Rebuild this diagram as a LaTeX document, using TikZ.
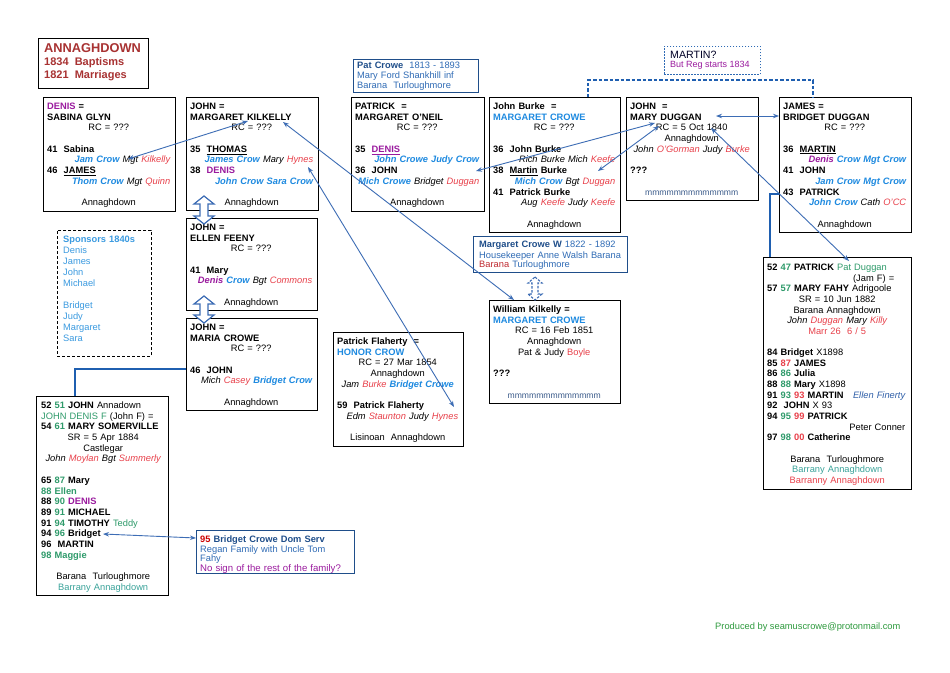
\documentclass[tikz,border=0pt]{standalone}
\usepackage{fontspec}
\setmainfont{Liberation Sans}
\usetikzlibrary{arrows.meta}
\definecolor{nblue}{HTML}{1E8AE0}
\definecolor{sblue}{HTML}{3A9AE0}
\definecolor{nred}{HTML}{E8404A}
\definecolor{ngreen}{HTML}{2E9A6A}
\definecolor{nteal}{HTML}{3AA39A}
\definecolor{npurple}{HTML}{9A1A9E}
\definecolor{titlered}{HTML}{A83232}
\definecolor{dkblue}{HTML}{1F4E8A}
\definecolor{midblue}{HTML}{2F6BB5}
\definecolor{linkblue}{HTML}{3D6DB5}
\definecolor{thickblue}{HTML}{1F5FB0}
\definecolor{mgray}{HTML}{3A5A8A}
\definecolor{footgreen}{HTML}{2E9A3E}
\definecolor{darkred}{HTML}{C02A30}
\definecolor{eblue}{HTML}{2F5FA8}
\newcommand\ctrline[1]{\hfill#1\hfill\null}
\newcommand\bn[1]{\textcolor{nblue}{\textbf{\textit{#1}}}}
\newcommand\bb[1]{\textcolor{nblue}{\textbf{#1}}}
\newcommand\rn[1]{\textcolor{nred}{#1}}
\newcommand\gn[1]{\textcolor{ngreen}{#1}}
\newcommand\pn[1]{\textcolor{npurple}{#1}}
\newcommand\tn[1]{\textcolor{nteal}{#1}}
\newcommand\mrow{\textcolor{mgray}{\fontsize{8.6}{9}\selectfont mmmmmmmmmmmmm}}
% x, y1, y2, head half width, shaft half width, head length, style
\newcommand\updown[7]{%
  \draw[#7] (#1,#2) -- ++(#4,#6) -- (#1+#5,#2+#6) -- (#1+#5,#3-#6) -- (#1+#4,#3-#6)
    -- (#1,#3) -- (#1-#4,#3-#6) -- (#1-#5,#3-#6) -- (#1-#5,#2+#6) -- (#1-#4,#2+#6) -- cycle;}
\begin{document}
\begin{tikzpicture}[x=1pt,y=-1pt,
  box/.style={draw=black, line width=1.1pt, fill=white, inner sep=0, anchor=north west},
  bluebox/.style={box, draw=dkblue},
  body/.style={anchor=north west, inner sep=0, align=left, font=\fontsize{9.3}{10.7}\selectfont},
  single/.style={anchor=base west, inner sep=0},
  link/.style={draw=linkblue, line width=0.9pt, {Stealth[length=6pt,width=4.5pt]}-{Stealth[length=6pt,width=4.5pt]}},
  thickline/.style={draw=thickblue, line width=2pt},
  blockarrow/.style={draw=linkblue, line width=1.2pt, fill=white},
  dashblock/.style={draw=linkblue, line width=1.1pt, dash pattern=on 2.5pt off 1.5pt, fill=white}
]
\fill[white] (0,0) rectangle (950,672);
\useasboundingbox (0,0) rectangle (950,672);

% ---------- title
\node[box, minimum width=110, minimum height=50] (title) at (38,38) {};
\node[single, font=\fontsize{12.8}{14}\selectfont\bfseries, text=titlered] (title1) at (44,52.6) {ANNAGHDOWN};
\node[single, font=\fontsize{11}{12}\selectfont\bfseries, text=titlered] (title2) at (44,65.9) {1834~~Baptisms};
\node[single, font=\fontsize{11}{12}\selectfont\bfseries, text=titlered] (title3) at (44,78.2) {1821~~Marriages};

% ---------- boxes
\node[box, minimum width=132, minimum height=114] (denis) at (43,97) {};
\node[box, minimum width=132, minimum height=113] (kil) at (186,97) {};
\node[bluebox, minimum width=125, minimum height=33] (patc) at (353,59) {};
\node[box, minimum width=133, minimum height=114] (pat) at (351,97) {};
\node[box, minimum width=131, minimum height=135] (burke) at (489,97) {};
\node[box, minimum width=132, minimum height=103] (dug) at (626,97) {};
\node[box, draw=midblue, line width=0.9pt, dash pattern=on 1.5pt off 1.5pt, minimum width=96, minimum height=28] (martin) at (664,46) {};
\node[box, minimum width=132, minimum height=135] (james) at (779,97) {};
\node[box, minimum width=131, minimum height=92] (feeny) at (186,218) {};
\node[box, minimum width=131, minimum height=92] (maria) at (186,318) {};
\node[box, line width=0.9pt, dash pattern=on 3pt off 2pt, minimum width=94, minimum height=126] (spons) at (57,230) {};
\node[box, minimum width=130, minimum height=114] (flah) at (333,332) {};
\node[bluebox, minimum width=154, minimum height=36] (mgw) at (473,236) {};
\node[box, minimum width=131, minimum height=103] (wil) at (489,300) {};
\node[box, minimum width=132, minimum height=199] (bl) at (36,396) {};
\node[bluebox, minimum width=158, minimum height=43] (b95) at (196,530) {};
\node[box, minimum width=148, minimum height=232] (rbox) at (763,257) {};

% ---------- texts
\node[body, text width=123] (denis-t) at (47,101.8) {\strut\textbf{\pn{DENIS} =}\\
\textbf{SABINA GLYN}\\
\ctrline{RC = ???}\\
~\\
\textbf{41~~Sabina}\\
\hfill\textit{\bn{Jam Crow} Mgt \rn{Kilkelly}}\\
\textbf{46~~\underline{JAMES}}\\
\hfill\textit{\bn{Thom Crow} Mgt \rn{Quinn}}\\
~\\
\ctrline{Annaghdown}};

\node[body, text width=123] (kil-t) at (190,101.8) {\strut\textbf{JOHN =}\\
\textbf{MARGARET KILKELLY}\\
\ctrline{RC = ???}\\
~\\
\textbf{35~~\underline{THOMAS}}\\
\hfill\textit{\bn{James Crow} Mary \rn{Hynes}}\\
\textbf{38~~\pn{DENIS}}\\
\hfill\textit{\bn{John Crow Sara Crow}}\\
~\\
\ctrline{Annaghdown}};

\node[body, text width=118, font=\fontsize{9.3}{10}\selectfont, text=midblue] (patc-t) at (357,61.3) {\strut\textcolor{dkblue}{\textbf{Pat Crowe}}~~1813 - 1893\\
Mary Ford Shankhill inf\\
Barana~~Turloughmore};

\node[body, text width=124] (pat-t) at (355,101.8) {\strut\textbf{PATRICK~~=}\\
\textbf{MARGARET O'NEIL}\\
\ctrline{RC = ???}\\
~\\
\textbf{35~~\pn{\underline{DENIS}}}\\
\hfill\textit{\bn{John Crowe Judy Crow}}\\
\textbf{36~~JOHN}\\
\hfill\mbox{\textit{\bn{Mich Crowe} Bridget \rn{Duggan}}}\\
~\\
\ctrline{Annaghdown}};

\node[body, text width=122] (burke-t) at (493,101.8) {\strut\textbf{John Burke~~=}\\
\bb{MARGARET CROWE}\\
\ctrline{RC = ???}\\
~\\
\textbf{36~~John Burke}\\
\hfill\textit{Rich Burke Mich \rn{Keefe}}\\
\textbf{38~~\underline{Martin} Burke}\\
\hfill\textit{\bn{Mich Crow} Bgt \rn{Duggan}}\\
\textbf{41~~Patrick Burke}\\
\hfill\textit{Aug \rn{Keefe} Judy \rn{Keefe}}\\
~\\
\ctrline{Annaghdown}};

\node[body, text width=123] (dug-t) at (630,101.8) {\strut\textbf{JOHN~~=}\\
\textbf{MARY DUGGAN}\\
\ctrline{RC = 5 Oct 1840}\\
\ctrline{Annaghdown}\\
\ctrline{\textit{John \rn{O'Gorman} Judy \rn{Burke}}}\\
~\\
\textbf{???}\\
~\\
\ctrline{\mrow}};

\node[single, font=\fontsize{10.6}{12}\selectfont, text=black!85!blue] (martin1) at (670,58.8) {MARTIN?};
\node[single, font=\fontsize{9}{10}\selectfont, text=npurple] (martin2) at (670,67.3) {But Reg starts 1834};

\node[body, text width=123] (james-t) at (783,101.8) {\strut\textbf{JAMES =}\\
\textbf{BRIDGET DUGGAN}\\
\ctrline{RC = ???}\\
~\\
\textbf{36~~\underline{MARTIN}}\\
\hfill\textit{\textcolor{npurple}{\textbf{Denis}} \bn{Crow Mgt Crow}}\\
\textbf{41~~JOHN}\\
\hfill\textit{\bn{Jam Crow Mgt Crow}}\\
\textbf{43~~PATRICK}\\
\hfill\textit{\bn{John Crow} Cath \rn{O'CC}}\\
~\\
\ctrline{Annaghdown}};

\node[body, text width=122] (feeny-t) at (190,222.8) {\strut\textbf{JOHN =}\\
\textbf{ELLEN FEENY}\\
\ctrline{RC = ???}\\
~\\
\textbf{41~~Mary}\\
\hfill\textit{\textcolor{npurple}{\textbf{Denis}} \bn{Crow} Bgt \rn{Commons}}\\
~\\
\ctrline{Annaghdown}};

\node[body, text width=122] (maria-t) at (190,322.8) {\strut\textbf{JOHN =}\\
\textbf{MARIA CROWE}\\
\ctrline{RC = ???}\\
~\\
\textbf{46~~JOHN}\\
\hfill\textit{Mich \rn{Casey} \bn{Bridget Crow}}\\
~\\
\ctrline{Annaghdown}};

\node[body, text width=85, font=\fontsize{9.3}{11}\selectfont, text=sblue] (spons-t) at (63,234.6) {\strut\textbf{Sponsors 1840s}\\
Denis\\ James\\ John\\ Michael\\ ~\\ Bridget\\ Judy\\ Margaret\\ Sara};

\node[body, text width=121] (flah-t) at (337,336.8) {\strut\textbf{Patrick Flaherty~~=}\\
\bb{HONOR CROW}\\
\ctrline{RC = 27 Mar 1854}\\
\ctrline{Annaghdown}\\
\ctrline{\textit{Jam \rn{Burke} \bn{Bridget Crowe}}}\\
~\\
\textbf{59~~Patrick Flaherty}\\
\hfill\textit{Edm \rn{Staunton} Judy \rn{Hynes}}\\
~\\
\ctrline{Lisinoan~~Annaghdown}};

\node[body, text width=146, font=\fontsize{9.3}{9.6}\selectfont, text=midblue] (mgw-t) at (479,240.6) {\strut\textcolor{dkblue}{\textbf{Margaret Crowe W}} 1822 - 1892\\
Housekeeper Anne Walsh Barana\\
\textcolor{darkred}{Barana} Turloughmore};

\node[body, text width=122] (wil-t) at (493,304.8) {\strut\textbf{William Kilkelly =}\\
\bb{MARGARET CROWE}\\
\ctrline{RC = 16 Feb 1851}\\
\ctrline{Annaghdown}\\
\ctrline{Pat \& Judy \rn{Boyle}}\\
~\\
\textbf{???}\\
~\\
\ctrline{\mrow}};

\node[body, text width=124] (bl-t) at (41,400.8) {\strut\textbf{52} \gn{\textbf{51}} \textbf{JOHN} Annadown\\
\gn{JOHN DENIS F} (John F) =\\
\textbf{54} \gn{\textbf{61}} \textbf{MARY SOMERVILLE}\\
\ctrline{SR = 5 Apr 1884}\\
\ctrline{Castlegar}\\
\ctrline{\textit{John \rn{Moylan} Bgt \rn{Summerly}}}\\
~\\
\textbf{65} \gn{\textbf{87}} \textbf{Mary}\\
\gn{\textbf{88 Ellen}}\\
\textbf{88} \gn{\textbf{90}} \pn{\textbf{DENIS}}\\
\textbf{89} \gn{\textbf{91}} \textbf{MICHAEL}\\
\textbf{91} \gn{\textbf{94}} \textbf{TIMOTHY} \gn{Teddy}\\
\textbf{94} \gn{\textbf{96}} \textbf{Bridget}\\
\textbf{96~~MARTIN}\\
\gn{\textbf{98 Maggie}}\\
~\\
\ctrline{Barana~~Turloughmore}\\
\ctrline{\tn{Barrany Annaghdown}}};

\node[body, text width=152, font=\fontsize{9.3}{9.7}\selectfont, text=midblue] (b95-t) at (200,535.5) {\strut\textcolor{red!80!black}{\textbf{95}} \textcolor{dkblue}{\textbf{Bridget Crowe Dom Serv}}\\
Regan Family with Uncle Tom\\
Fahy\\
\textcolor{npurple}{\fontsize{9.6}{9.7}\selectfont No sign of the rest of the family?}};

\node[body, text width=140, font=\fontsize{9.3}{10.65}\selectfont] (rbox-t) at (767,262.8) {\strut\textbf{52} \gn{\textbf{47}} \textbf{PATRICK} \gn{Pat Duggan}\\
\hfill(Jam F) =\hbox to 13pt{}\\
\textbf{57} \gn{\textbf{57}} \textbf{MARY FAHY} Adrigoole\\
\ctrline{SR = 10 Jun 1882}\\
\ctrline{Barana Annaghdown}\\
\ctrline{\textit{John \rn{Duggan} Mary \rn{Killy}}}\\
\ctrline{\rn{Marr 26~~6 / 5}}\\
~\\
\textbf{84 Bridget} X1898\\
\textbf{85} \rn{\textbf{87}} \textbf{JAMES}\\
\textbf{86} \gn{\textbf{86}} \textbf{Julia}\\
\textbf{88} \gn{\textbf{88}} \textbf{Mary} X1898\\
\mbox{\textbf{91} \gn{\textbf{93}} \rn{\textbf{93}} \textbf{MARTIN}~~~\textit{\textcolor{eblue}{Ellen Finerty}}}\\
\textbf{92~~JOHN} X 93\\
\textbf{94} \gn{\textbf{95}} \rn{\textbf{99}} \textbf{PATRICK}\\
\hfill Peter Conner\hbox to 2pt{}\\
\textbf{97} \gn{\textbf{98}} \rn{\textbf{00}} \textbf{Catherine}\\
~\\
\ctrline{Barana~~Turloughmore}\\
\ctrline{\tn{Barrany Annaghdown}}\\
\ctrline{\rn{Barranny Annaghdown}}};

\node[single, font=\fontsize{9.3}{10}\selectfont, text=footgreen] (foot) at (715,629.3) {Produced by seamuscrowe@protonmail.com};

% ---------- block arrows
\updown{204}{196}{224}{10}{4}{8}{blockarrow}
\updown{204}{296}{323}{10}{4}{8}{blockarrow}
\updown{535}{277}{300}{7}{3}{6}{dashblock}

% ---------- connector end points
\coordinate (kilA) at (128,159);
\coordinate (kilB) at (248,121);
\coordinate (kilC) at (283,122);
\coordinate (wilT) at (514,300);
\coordinate (hyA) at (308,167);
\coordinate (hyB) at (454,407);
\coordinate (pjA) at (476,171);
\coordinate (mdA) at (655,123);
\coordinate (bdA) at (598,171);
\coordinate (mdB) at (659,126);
\coordinate (mdC) at (716,116);
\coordinate (bdgA) at (779,116);
\coordinate (mdD) at (711,128);
\coordinate (pdA) at (849,261);
\coordinate (brA) at (103,534);
\coordinate (brB) at (196,538);
\coordinate (blTop) at (75,396);
\coordinate (mariaL) at (186,369);
\coordinate (rTop) at (770,257);
\coordinate (jamL) at (779,194);
\coordinate (burkeTop) at (588,97);
\coordinate (jamesTop) at (813,97);

% ---------- connectors
\draw[link] (kilA) -- (kilB);
\draw[link] (kilC) -- (wilT);
\draw[link] (hyA) -- (hyB);
\draw[link] (pjA) -- (mdA);
\draw[link] (bdA) -- (mdB);
\draw[link] (mdC) -- (bdgA);
\draw[link] (mdD) -- (pdA);
\draw[link] (brA) -- (brB);
\draw[thickline] (blTop) |- (mariaL);
\draw[thickline] (rTop) |- (jamL);
\draw[draw=thickblue, line width=1.6pt, dash pattern=on 3.5pt off 2pt] (burkeTop) -- ++(0,-17) -| (jamesTop);
\end{tikzpicture}
\end{document}
